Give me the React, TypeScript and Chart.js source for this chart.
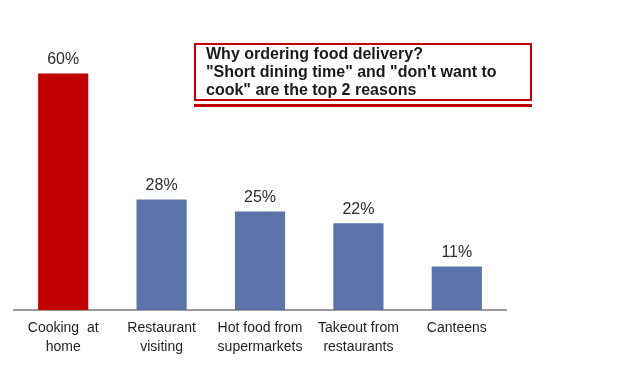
import React, { useEffect, useRef } from "react";
import { Chart, registerables } from "chart.js";

Chart.register(...registerables);

const categories: string[][] = [
  ["Cooking  at", "home"],
  ["Restaurant", "visiting"],
  ["Hot food from", "supermarkets"],
  ["Takeout from", "restaurants"],
  ["Canteens"],
];
const values: number[] = [60, 28, 25, 22, 11];
const barColors: string[] = ["#C00000", "#5B73A8", "#5B73A8", "#5B73A8", "#5B73A8"];
const titleLines: string[] = [
  "Why ordering food delivery?",
  "\"Short dining time\" and \"don't want to",
  "cook\" are the top 2 reasons",
];

const valueLabelPlugin = {
  id: "valueLabels",
  afterDatasetsDraw(chart: any) {
    const ctx = chart.ctx;
    const meta = chart.getDatasetMeta(0);
    ctx.save();
    ctx.font = "16px 'Liberation Sans', Arial, sans-serif";
    ctx.fillStyle = "#2b2b2b";
    ctx.textAlign = "center";
    ctx.textBaseline = "middle";
    meta.data.forEach((bar: any, i: number) => {
      ctx.fillText(values[i] + "%", bar.x, bar.y - 14);
    });
    ctx.restore();
  },
};

export default function App() {
  const ref = useRef<HTMLCanvasElement | null>(null);
  useEffect(() => {
    document.body.style.margin = "0";
    const chart = new Chart(ref.current as HTMLCanvasElement, {
      type: "bar",
      data: {
        labels: categories,
        datasets: [
          {
            data: values,
            backgroundColor: barColors,
            barPercentage: 0.51,
            categoryPercentage: 1,
          },
        ],
      },
      options: {
        responsive: false,
        animation: false,
        layout: { padding: { left: 14, right: 119, top: 34, bottom: 13 } },
        plugins: { legend: { display: false }, tooltip: { enabled: false } },
        scales: {
          x: {
            grid: { display: false, drawTicks: false },
            border: { color: "#9a9a9a", width: 2 },
            ticks: {
              color: "#1e1e1e",
              font: { family: "'Liberation Sans', Arial, sans-serif", size: 14, lineHeight: 1.36 },
              padding: 9,
              maxRotation: 0,
              autoSkip: false,
            },
          },
          y: { display: false, min: 0, max: 70 },
        },
      },
      plugins: [valueLabelPlugin],
    });
    return () => chart.destroy();
  }, []);
  return (
    <div style={{ position: "relative", width: 625, height: 379, background: "#fff" }}>
      <canvas ref={ref} width={625} height={379} style={{ display: "block" }} />
      <div
        style={{
          position: "absolute",
          left: 194,
          top: 43,
          width: 338,
          height: 58,
          boxSizing: "border-box",
          border: "2.5px solid #C00000",
          padding: "0 0 0 10px",
          fontFamily: "'Liberation Sans', Arial, sans-serif",
          fontWeight: "bold",
          fontSize: 16,
          lineHeight: "18px",
          color: "#1a1a1a",
        }}
      >
        {titleLines.map((t, i) => (
          <div key={i} style={{ whiteSpace: "pre" }}>{t}</div>
        ))}
      </div>
      <div
        style={{
          position: "absolute",
          left: 194,
          top: 104,
          width: 338,
          height: 3,
          background: "#C00000",
        }}
      />
    </div>
  );
}
